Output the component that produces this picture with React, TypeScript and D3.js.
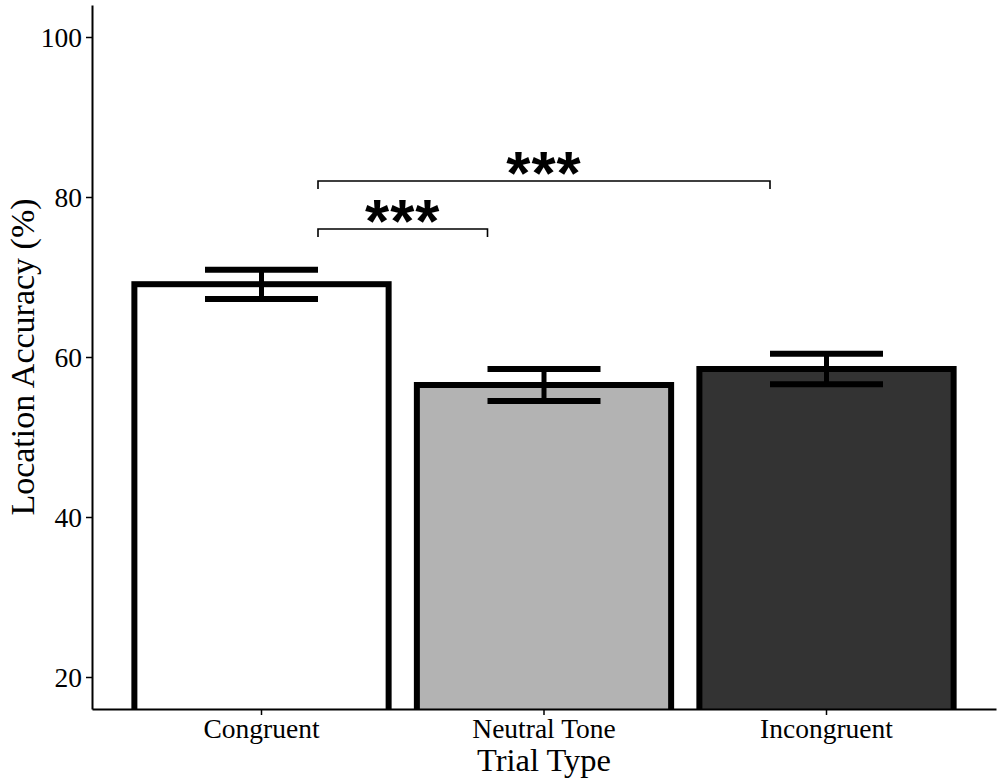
import React, { useEffect, useRef } from 'react';
import * as d3 from 'd3';

const categories = ['Congruent', 'Neutral Tone', 'Incongruent'];
const means = [69.1, 56.5, 58.5];
const upperCI = [70.9, 58.5, 60.4];
const lowerCI = [67.25, 54.5, 56.6];
const fills = ['#ffffff', '#b3b3b3', '#333333'];
const yTicks = [20, 40, 60, 80, 100];
const sigFrom = [0, 0];
const sigTo = [1, 2];
const sigY = [76, 82];
const sigLabels = ['***', '***'];

export default function App() {
  const svgRef = useRef<SVGSVGElement>(null);

  useEffect(() => {
    if (!svgRef.current) return;
    d3.select(svgRef.current).selectAll('*').remove();

    const width = 1000;
    const height = 784;
    const left = 92;
    const right = 996;
    const top = 5;
    const bottom = 709;

    const svg = d3.select(svgRef.current);

    const x = d3.scaleBand()
      .domain(categories)
      .range([left, right])
      .paddingInner(0.1)
      .paddingOuter(0.15);

    const y = d3.scaleLinear()
      .domain([16, 104])
      .range([bottom, top]);

    const step = x.step();
    const center = (i: number) => x(categories[i])! + x.bandwidth() / 2;

    // clip so the bars stop at the axis
    svg.append('defs')
      .append('clipPath')
      .attr('id', 'plot-clip')
      .append('rect')
      .attr('x', left)
      .attr('y', top)
      .attr('width', right - left)
      .attr('height', bottom - top);

    const plot = svg.append('g').attr('clip-path', 'url(#plot-clip)');

    // bars
    plot.selectAll('.bar')
      .data(categories)
      .enter()
      .append('rect')
      .attr('class', 'bar')
      .attr('x', d => x(d)!)
      .attr('y', (_, i) => y(means[i]))
      .attr('width', x.bandwidth())
      .attr('height', (_, i) => y(0) - y(means[i]))
      .attr('fill', (_, i) => fills[i])
      .attr('stroke', '#000')
      .attr('stroke-width', 6);

    // error bars
    const capHalf = step * 0.2;
    categories.forEach((_, i) => {
      const cx = center(i);
      plot.append('line')
        .attr('x1', cx).attr('x2', cx)
        .attr('y1', y(upperCI[i])).attr('y2', y(lowerCI[i]))
        .attr('stroke', '#000')
        .attr('stroke-width', 5);
      [upperCI[i], lowerCI[i]].forEach(v => {
        plot.append('line')
          .attr('x1', cx - capHalf).attr('x2', cx + capHalf)
          .attr('y1', y(v)).attr('y2', y(v))
          .attr('stroke', '#000')
          .attr('stroke-width', 6);
      });
    });

    // significance brackets
    const tickDrop = y(0) - y(1);
    sigY.forEach((v, k) => {
      const x1 = center(sigFrom[k]) + step * 0.2;
      const x2 = center(sigTo[k]) - step * 0.2;
      const yy = y(v);
      svg.append('path')
        .attr('d', `M${x1},${yy + tickDrop}V${yy}H${x2}V${yy + tickDrop}`)
        .attr('fill', 'none')
        .attr('stroke', '#000')
        .attr('stroke-width', 1.6);
      svg.append('text')
        .attr('x', (x1 + x2) / 2)
        .attr('y', yy + 13)
        .attr('text-anchor', 'middle')
        .style('font-family', '"Liberation Sans", Arial, sans-serif')
        .style('font-weight', 'bold')
        .style('font-size', '62px')
        .style('letter-spacing', '1px')
        .text(sigLabels[k]);
    });

    const serif = '"Liberation Serif", "Times New Roman", serif';

    // axes
    const yAxis = svg.append('g')
      .attr('transform', `translate(${left},0)`)
      .call(d3.axisLeft(y).tickValues(yTicks).tickSize(6).tickSizeOuter(0));
    yAxis.select('.domain').attr('stroke-width', 2);
    yAxis.selectAll('.tick line').attr('stroke-width', 1.5);
    yAxis.selectAll('.tick text')
      .attr('x', -10)
      .attr('dy', '0.34em')
      .attr('fill', '#000')
      .style('font-family', serif)
      .style('font-size', '27.5px');

    const xAxis = svg.append('g')
      .attr('transform', `translate(0,${bottom})`)
      .call(d3.axisBottom(x).tickSize(6).tickSizeOuter(0));
    xAxis.select('.domain').attr('stroke-width', 2);
    xAxis.selectAll('.tick line').attr('stroke-width', 1.5);
    xAxis.selectAll('.tick text')
      .attr('y', 29)
      .attr('dy', 0)
      .attr('fill', '#000')
      .style('font-family', serif)
      .style('font-size', '27.5px');

    // axis titles
    svg.append('text')
      .attr('x', (left + right) / 2)
      .attr('y', 771)
      .attr('text-anchor', 'middle')
      .style('font-family', serif)
      .style('font-size', '32.5px')
      .text('Trial Type');

    svg.append('text')
      .attr('transform', `translate(34,${(top + bottom) / 2}) rotate(-90)`)
      .attr('text-anchor', 'middle')
      .style('font-family', serif)
      .style('font-size', '34px')
      .text('Location Accuracy (%)');

    svg.attr('width', width).attr('height', height);
  }, []);

  return (
    <div style={{ position: 'absolute', left: 0, top: 0, background: '#fff' }}>
      <svg ref={svgRef} width={1000} height={784} style={{ display: 'block' }} />
    </div>
  );
}
